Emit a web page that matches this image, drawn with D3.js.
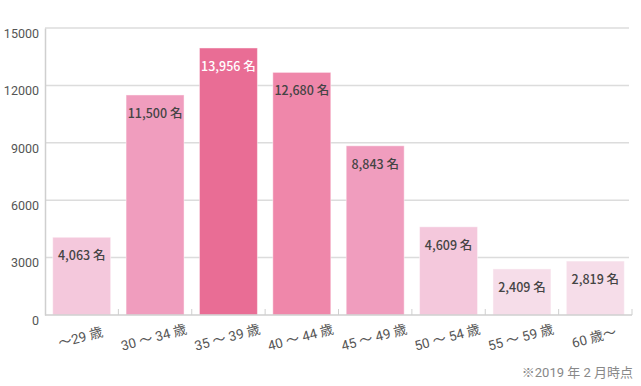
<!DOCTYPE html>
<html>
<head>
<meta charset="utf-8">
<script src="https://cdn.jsdelivr.net/npm/d3@7"></script>
<style>
  body { margin: 0; background: #fff; }
  svg text { font-family: Roboto, "Noto Sans CJK JP", sans-serif; }
  svg text.val { font-family: "Noto Sans CJK JP", sans-serif; }
</style>
</head>
<body>
<div id="chart"></div>
<script>
// age groups and head counts
var categories = ["～29 歳", "30 ～ 34 歳", "35 ～ 39 歳", "40 ～ 44 歳", "45 ～ 49 歳", "50 ～ 54 歳", "55 ～ 59 歳", "60 歳～"];
var values = [4063, 11500, 13956, 12680, 8843, 4609, 2409, 2819];
var barColors = ["#f4c8dc", "#f09dbe", "#e96d95", "#ef87aa", "#f09dbe", "#f4c8dc", "#f6dde9", "#f6dde9"];
var yTicks = [0, 3000, 6000, 9000, 12000, 15000];
var note = "※2019 年 2 月時点";

var width = 641, height = 386;
var margin = { top: 28, right: 9, bottom: 71, left: 45 };

var svg = d3.select("#chart")
    .append("svg")
    .attr("width", width)
    .attr("height", height);

var x = d3.scaleBand()
    .domain(categories)
    .range([margin.left, width - margin.right])
    .paddingInner(0.21)
    .paddingOuter(0.105);

var y = d3.scaleLinear()
    .domain([0, 15000])
    .range([height - margin.bottom, margin.top]);

// horizontal grid lines
svg.append("g")
    .selectAll("line")
    .data(yTicks.slice(1))
    .enter()
    .append("line")
    .attr("x1", margin.left)
    .attr("x2", width - margin.right - 3)
    .attr("y1", function(d) { return y(d); })
    .attr("y2", function(d) { return y(d); })
    .attr("stroke", "#dcdcdc")
    .attr("stroke-width", 1.5);

// y axis labels
var yAxis = svg.append("g")
    .attr("transform", "translate(" + margin.left + ",0)")
    .call(d3.axisLeft(y).tickValues(yTicks).tickSize(0).tickPadding(6).tickFormat(d3.format("d")));
yAxis.select(".domain").attr("stroke", "#cfcfcf").attr("stroke-width", 1.5);
yAxis.selectAll("text")
    .attr("fill", "#555")
    .attr("font-size", 12.5)
    .attr("dy", "0.75em");

// bars
svg.append("g")
    .selectAll("rect")
    .data(values)
    .enter()
    .append("rect")
    .attr("x", function(d, i) { return x(categories[i]); })
    .attr("y", function(d) { return y(d); })
    .attr("width", x.bandwidth())
    .attr("height", function(d) { return y(0) - y(d); })
    .attr("fill", function(d, i) { return barColors[i]; })
    .attr("stroke", "rgba(255,255,255,0.45)")
    .attr("stroke-width", 1);

// x axis with inward ticks at band edges
var bottom = y(0);
var xAxis = svg.append("g");
xAxis.append("line")
    .attr("x1", margin.left)
    .attr("x2", width - margin.right)
    .attr("y1", bottom)
    .attr("y2", bottom)
    .attr("stroke", "#cfcfcf")
    .attr("stroke-width", 1.5);
var step = x.step();
xAxis.selectAll(".tick")
    .data(categories)
    .enter()
    .append("line")
    .attr("x1", function(d) { return x(d) - x.paddingOuter() * step + step; })
    .attr("x2", function(d) { return x(d) - x.paddingOuter() * step + step; })
    .attr("y1", bottom)
    .attr("y2", bottom - 6)
    .attr("stroke", "#cfcfcf");

xAxis.selectAll("text")
    .data(categories)
    .enter()
    .append("text")
    .attr("transform", function(d) {
        return "translate(" + (x(d) + x.bandwidth() / 2) + "," + (bottom + 27) + ") rotate(-15)";
    })
    .attr("text-anchor", "middle")
    .attr("fill", "#555")
    .attr("font-size", 13.5)
    .text(function(d) { return d; });

// value labels inside bars
svg.append("g")
    .selectAll("text")
    .data(values)
    .enter()
    .append("text")
    .attr("class", "val")
    .attr("x", function(d, i) { return x(categories[i]) + x.bandwidth() / 2; })
    .attr("y", function(d) { return y(d) + 23; })
    .attr("text-anchor", "middle")
    .attr("font-size", 12.5)
    .attr("font-weight", 500)
    .attr("fill", function(d, i) { return i === 2 ? "#fff" : "#444"; })
    .text(function(d) { return d3.format(",")(d) + " 名"; });

// footnote
svg.append("text")
    .attr("x", width - 8)
    .attr("y", 377)
    .attr("text-anchor", "end")
    .attr("font-size", 13)
    .attr("fill", "#888")
    .text(note);
</script>
</body>
</html>
